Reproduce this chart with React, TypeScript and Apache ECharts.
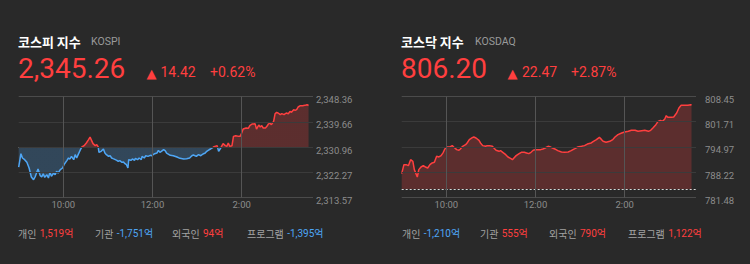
import React, { useEffect, useRef } from 'react';
import * as echarts from 'echarts';

// ---------- data ----------
const kospiName = '코스피 지수';
const kospiCode = 'KOSPI';
const kospiPrice = 2345.26;
const kospiChange = 14.42;
const kospiPct = 0.62;
const kospiTicks = [2313.57, 2322.27, 2330.96, 2339.66, 2348.36];
const kospiFlows = [1519, -1751, 94, -1395];
// [minutes since 9:00, index value]
const kospiSeries = [
  [0, 2324.07], [3, 2328.66], [5, 2327.17], [8, 2326.6], [11, 2325.68], [14, 2323.73], [17, 2320.63], [20, 2319.71],
  [22, 2320.63], [24, 2322.0], [26, 2323.38], [29, 2321.09], [31, 2320.63], [33, 2321.77], [35, 2320.51], [38, 2321.43],
  [40, 2320.28], [42, 2322.23], [44, 2320.86], [47, 2322.0], [49, 2321.43], [51, 2322.58], [53, 2322.0], [56, 2323.15],
  [59, 2323.73], [61, 2324.87], [65, 2326.37], [67, 2327.17], [69, 2326.83], [71, 2327.74], [74, 2326.6], [76, 2328.32],
  [78, 2327.17], [80, 2328.32], [83, 2330.04], [85, 2330.96], [88, 2331.42], [91, 2332.34], [94, 2333.49], [96, 2334.4],
  [98, 2333.26], [100, 2332.11], [103, 2331.42], [105, 2331.76], [107, 2330.96], [108, 2329.12], [111, 2329.47], [113, 2330.04],
  [114, 2330.27], [116, 2328.89], [118, 2328.32], [121, 2327.74], [123, 2327.97], [125, 2327.17], [127, 2326.94], [130, 2326.6],
  [132, 2326.37], [134, 2326.02], [136, 2326.25], [139, 2325.68], [141, 2325.79], [143, 2325.22], [145, 2324.87], [147, 2323.73],
  [148, 2326.6], [151, 2326.37], [153, 2326.83], [156, 2326.37], [157, 2327.06], [160, 2326.6], [162, 2327.17], [165, 2326.6],
  [166, 2327.74], [169, 2327.17], [171, 2327.97], [174, 2327.74], [177, 2328.09], [179, 2327.97], [181, 2328.32], [183, 2328.66],
  [186, 2328.89], [188, 2329.81], [190, 2329.12], [192, 2329.47], [195, 2330.04], [197, 2329.7], [199, 2328.89], [204, 2328.09],
  [208, 2327.97], [213, 2327.52], [217, 2327.06], [222, 2326.83], [226, 2326.94], [230, 2327.17], [233, 2327.97], [235, 2328.2],
  [239, 2327.74], [242, 2328.32], [245, 2327.97], [248, 2328.55], [251, 2328.89], [253, 2329.47], [255, 2329.81], [258, 2330.27],
  [260, 2330.62], [262, 2330.96], [264, 2331.19], [267, 2331.42], [269, 2329.47], [271, 2330.27], [273, 2331.19], [275, 2332.11],
  [278, 2331.42], [280, 2331.19], [282, 2332.34], [284, 2331.19], [287, 2331.42], [289, 2334.63], [292, 2334.86], [296, 2334.63],
  [298, 2334.63], [300, 2335.78], [302, 2337.16], [306, 2337.51], [309, 2337.39], [311, 2338.31], [314, 2338.88], [316, 2338.88],
  [318, 2339.0], [320, 2337.16], [323, 2338.54], [325, 2337.85], [327, 2338.31], [329, 2337.51], [332, 2337.51], [334, 2338.08],
  [336, 2338.88], [338, 2339.23], [340, 2338.65], [343, 2339.8], [345, 2342.44], [347, 2342.9], [349, 2342.67], [352, 2342.1],
  [354, 2342.44], [357, 2342.1], [360, 2342.67], [363, 2342.44], [365, 2343.25], [367, 2342.9], [370, 2343.82], [372, 2343.59],
  [374, 2343.82], [376, 2344.74], [379, 2345.2], [382, 2345.2], [385, 2345.31], [388, 2345.54], [390, 2345.26],
];

const kosdaqName = '코스닥 지수';
const kosdaqCode = 'KOSDAQ';
const kosdaqPrice = 806.2;
const kosdaqChange = 22.47;
const kosdaqPct = 2.87;
const kosdaqTicks = [781.48, 788.22, 794.97, 801.71, 808.45];
const kosdaqFlows = [-1210, 555, 790, 1122];
const kosdaqSeries = [
  [0, 787.85], [3, 790.25], [6, 790.25], [9, 789.98], [12, 791.59], [15, 791.14], [17, 788.92], [21, 786.96],
  [23, 788.92], [26, 789.63], [29, 789.98], [32, 789.63], [35, 789.36], [38, 790.25], [41, 790.7], [44, 790.88],
  [47, 792.48], [50, 792.3], [53, 792.66], [56, 793.55], [58, 794.44], [61, 794.97], [65, 794.97], [68, 795.33],
  [70, 794.97], [74, 794.26], [77, 794.08], [79, 794.44], [82, 795.15], [86, 795.59], [88, 796.04], [91, 796.93],
  [95, 797.46], [97, 797.64], [100, 797.37], [104, 796.75], [106, 796.04], [109, 795.33], [113, 795.15], [115, 795.33],
  [118, 795.33], [122, 795.15], [124, 794.7], [127, 794.08], [131, 793.81], [133, 793.99], [136, 793.55], [140, 792.92],
  [143, 792.3], [147, 791.85], [149, 791.59], [151, 792.03], [154, 792.66], [158, 793.19], [161, 793.55], [165, 793.55],
  [168, 793.37], [171, 793.19], [174, 793.55], [177, 794.08], [180, 794.26], [184, 794.26], [187, 794.26], [190, 794.44],
  [193, 794.7], [197, 795.15], [201, 794.88], [206, 794.44], [210, 793.99], [215, 793.63], [219, 793.55], [224, 793.63],
  [228, 793.99], [233, 794.52], [237, 794.97], [242, 795.15], [246, 795.33], [251, 795.86], [255, 796.04], [258, 796.48],
  [262, 796.93], [266, 797.55], [269, 796.93], [271, 796.48], [275, 796.22], [280, 796.48], [284, 796.93], [287, 797.64],
  [291, 798.26], [296, 798.71], [300, 798.98], [305, 799.15], [309, 799.42], [314, 799.42], [318, 799.15], [323, 799.33],
  [327, 799.42], [332, 799.15], [335, 799.42], [338, 800.04], [342, 800.93], [345, 801.82], [348, 802.09], [351, 801.82],
  [354, 802.45], [356, 803.34], [358, 802.89], [363, 802.89], [366, 802.98], [370, 804.05], [373, 805.38], [376, 806.1],
  [381, 806.1], [385, 806.1], [389, 806.27], [390, 806.2],
];

const statLabels = ['개인', '기관', '외국인', '프로그램'];
const timeTicks = [60, 180, 300]; // minutes since 9:00
const timeLabels = ['10:00', '12:00', '2:00'];
const sessionEnd = 396;

// ---------- styling / layout ----------
const BG = '#292929';
const RED = '#ff3f3f';
const BLUE = '#4ea6f5';
const AXIS_TXT = '#8c8c8c';
const FONT = 'Roboto, "Noto Sans CJK KR", sans-serif';
const KFONT = '"Noto Sans CJK KR", sans-serif';

const panelLayout = [
  { left: 18.7, labelMargin: 3, tri: 146.5, chg: 160.5, pct: 210, code: 91, stats: [18, 95, 172, 247] },
  { left: 401.7, labelMargin: 9, tri: 507.5, chg: 522, pct: 571, code: 475, stats: [402, 480, 549, 628] },
];
const GRID_TOP = 96.5;
const GRID_H = 101;
const GRID_W = 294.3;

function fmt(v: number, d: number) {
  const s = Math.abs(v).toFixed(d);
  const [i, f] = s.split('.');
  const ii = i.replace(/\B(?=(\d{3})+(?!\d))/g, ',');
  return (v < 0 ? '-' : '') + ii + (f ? '.' + f : '');
}

function buildOption() {
  const panels = [
    { name: kospiName, code: kospiCode, price: kospiPrice, change: kospiChange, pct: kospiPct, ticks: kospiTicks, flows: kospiFlows, data: kospiSeries },
    { name: kosdaqName, code: kosdaqCode, price: kosdaqPrice, change: kosdaqChange, pct: kosdaqPct, ticks: kosdaqTicks, flows: kosdaqFlows, data: kosdaqSeries },
  ];

  const grid: any[] = [];
  const xAxis: any[] = [];
  const yAxis: any[] = [];
  const mainSeries: any[] = [];
  const gridSeries: any[] = [];
  const graphic: any[] = [];

  panels.forEach((p, gi) => {
    const L = panelLayout[gi];
    const base = +(p.price - p.change).toFixed(2);
    grid.push({ left: L.left, top: GRID_TOP, width: GRID_W, height: GRID_H });
    xAxis.push({ type: 'value', gridIndex: gi, min: 0, max: sessionEnd, show: false });
    yAxis.push({ type: 'value', gridIndex: gi, min: p.ticks[0], max: p.ticks[p.ticks.length - 1], show: false });

    const nT = p.ticks.length;
    const hLines = p.ticks.map((t, k) => ({
      yAxis: t,
      lineStyle: { color: k === 0 || k === nT - 1 ? '#4b4b4b' : '#3b3b3b', type: 'solid', width: 1 },
      label: {
        show: true, position: 'end', distance: L.labelMargin,
        formatter: () => fmt(t, 2),
        color: AXIS_TXT, fontSize: 9.5, fontFamily: FONT,
        verticalAlign: 'top', lineHeight: 6,
      },
    }));
    const vLines = timeTicks.map((t, k) => ({
      xAxis: t,
      lineStyle: { color: '#555555', type: 'solid', width: 1 },
      label: {
        show: true, position: 'start', distance: 2,
        formatter: () => timeLabels[k],
        color: AXIS_TXT, fontSize: 9.5, fontFamily: FONT,
      },
    }));
    gridSeries.push({
      type: 'line', xAxisIndex: gi, yAxisIndex: gi, data: p.data, z: 1,
      symbol: 'none', showSymbol: false, silent: true,
      lineStyle: { opacity: 0 }, itemStyle: { color: 'transparent' },
      markLine: {
        silent: true, symbol: ['none', 'none'], animation: false,
        data: [...hLines, ...vLines],
      },
    });

    const markLine = {
      silent: true, symbol: ['none', 'none'], animation: false,
      label: { show: false },
      lineStyle: { color: '#d8d8d8', type: [2, 2], width: 1 },
      data: [{ yAxis: base }],
    };
    if (gi === 0) {
      mainSeries.push({
        type: 'line', xAxisIndex: gi, yAxisIndex: gi, data: p.data, z: 3,
        symbol: 'none', showSymbol: false,
        lineStyle: { width: 1.5 },
        areaStyle: { opacity: 0.24, origin: base },
        markLine,
      });
    } else {
      mainSeries.push({
        type: 'line', xAxisIndex: gi, yAxisIndex: gi, data: p.data, z: 3,
        symbol: 'none', showSymbol: false,
        itemStyle: { color: RED },
        lineStyle: { width: 1.5, color: RED },
        areaStyle: { color: RED, opacity: 0.24, origin: base },
        markLine,
      });
    }

    const x0 = L.left - 0.7;
    graphic.push(
      { type: 'text', x: x0, y: 41, style: { text: p.name, fill: '#ffffff', fontSize: 13, fontWeight: 'bold', fontFamily: KFONT, verticalAlign: 'middle' } },
      { type: 'text', x: L.code, y: 41.5, style: { text: p.code, fill: '#9a9a9a', fontSize: 10.5, fontFamily: FONT, verticalAlign: 'middle' } },
      { type: 'text', x: x0, y: 68, style: { text: fmt(p.price, 2), fill: RED, fontSize: 28, fontFamily: FONT, verticalAlign: 'middle' } },
      { type: 'text', x: L.tri, y: 73, style: { text: '▲', fill: RED, fontSize: 13, fontFamily: '"DejaVu Sans", sans-serif', verticalAlign: 'middle' } },
      { type: 'text', x: L.chg, y: 72, style: { text: fmt(p.change, 2), fill: RED, fontSize: 14, fontFamily: FONT, verticalAlign: 'middle' } },
      { type: 'text', x: L.pct, y: 72, style: { text: (p.pct >= 0 ? '+' : '') + p.pct.toFixed(2) + '%', fill: RED, fontSize: 14, fontFamily: FONT, verticalAlign: 'middle' } },
    );
    statLabels.forEach((lab, k) => {
      const v = p.flows[k];
      graphic.push({
        type: 'text', x: L.stats[k], y: 233,
        style: {
          text: `{l|${lab}} {v|${fmt(v, 0)}억}`,
          verticalAlign: 'middle',
          rich: {
            l: { fill: '#a3a3a3', fontSize: 10, fontFamily: KFONT },
            v: { fill: v < 0 ? BLUE : RED, fontSize: 10, fontFamily: FONT },
          },
        },
      });
    });
  });

  const kospiBase = +(kospiPrice - kospiChange).toFixed(2);

  return {
    animation: false,
    backgroundColor: BG,
    grid,
    xAxis,
    yAxis,
    visualMap: [{
      type: 'piecewise', show: false, seriesIndex: 0, dimension: 1,
      pieces: [
        { gt: kospiTicks[0] - 50, lte: kospiBase, color: BLUE },
        { gt: kospiBase, lte: kospiTicks[kospiTicks.length - 1] + 50, color: RED },
      ],
      outOfRange: { color: RED },
    }],
    series: [...mainSeries, ...gridSeries],
    graphic,
  };
}

export default function App() {
  const ref = useRef<HTMLDivElement>(null);
  useEffect(() => {
    const chart = echarts.init(ref.current!, null, { renderer: 'svg' });
    chart.setOption(buildOption() as any);
    return () => chart.dispose();
  }, []);
  return <div ref={ref} style={{ position: 'absolute', left: 0, top: 0, width: 750, height: 264 }} />;
}
